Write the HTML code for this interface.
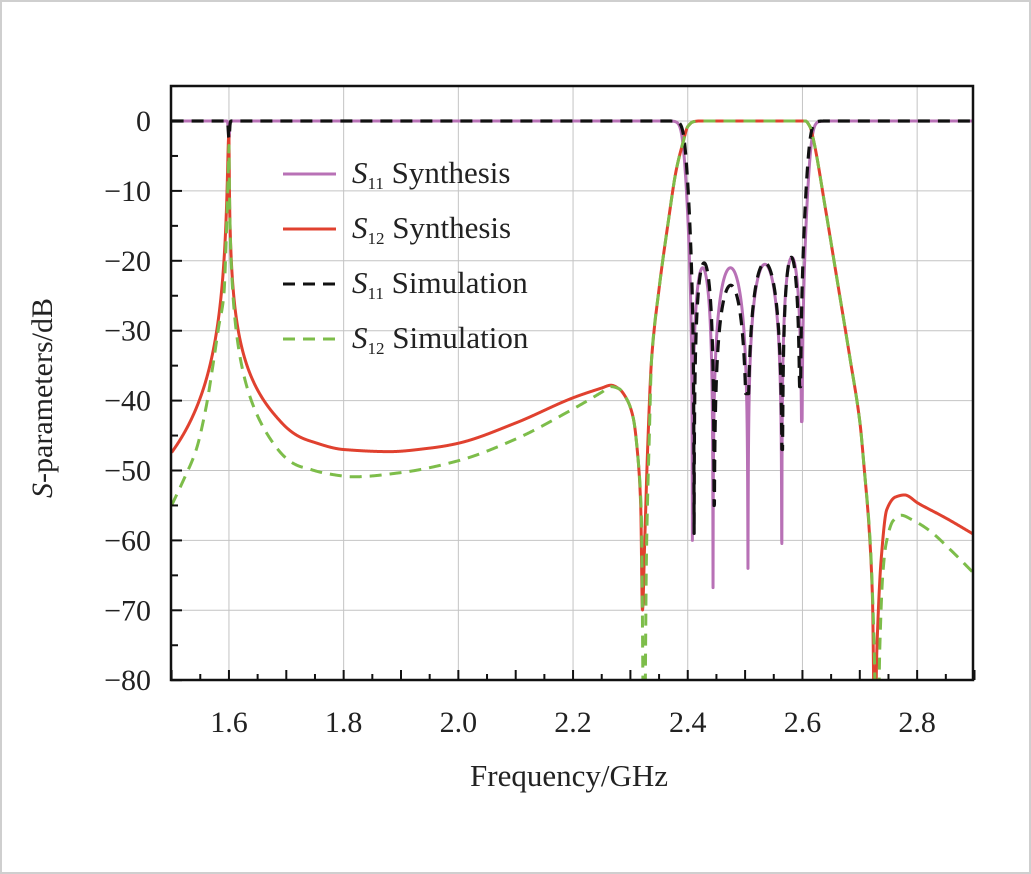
<!DOCTYPE html>
<html><head><meta charset="utf-8"><style>
html,body{margin:0;padding:0;background:#fff}
svg{display:block}
text{font-family:"Liberation Serif",serif;fill:#222}
</style></head><body>
<svg id="s" width="1031" height="874" xmlns="http://www.w3.org/2000/svg">
<defs><clipPath id="cp"><rect x="171" y="86" width="802" height="594"/></clipPath></defs>
<rect x="1" y="1" width="1029" height="872" fill="#fff" stroke="#cfcfcf" stroke-width="2"/>
<g id="grid" stroke="#c4c4c4" stroke-width="1"></g>
<g id="curves" fill="none" stroke-linejoin="round" clip-path="url(#cp)"></g>
<rect x="171" y="86" width="802" height="594" fill="none" stroke="#111" stroke-width="2.5"/>
<g id="ticks" stroke="#111" stroke-width="2"></g>
<g id="labels" font-size="30"></g>
<text x="569" y="786" font-size="31" text-anchor="middle">Frequency/GHz</text>
<text transform="translate(52,398) rotate(-90)" font-size="30" text-anchor="middle"><tspan font-style="italic">S</tspan>-parameters/dB</text>
<g font-size="31">
<line x1="283" y1="174" x2="336" y2="174" stroke="#b871b6" stroke-width="3"/>
<text x="352" y="183"><tspan font-style="italic">S</tspan><tspan font-size="17" dy="6">11</tspan><tspan dy="-6"> Synthesis</tspan></text>
<line x1="283" y1="229" x2="336" y2="229" stroke="#e0412f" stroke-width="3"/>
<text x="352" y="238"><tspan font-style="italic">S</tspan><tspan font-size="17" dy="6">12</tspan><tspan dy="-6"> Synthesis</tspan></text>
<line x1="283" y1="284" x2="336" y2="284" stroke="#111" stroke-width="3" stroke-dasharray="12,8"/>
<text x="352" y="293"><tspan font-style="italic">S</tspan><tspan font-size="17" dy="6">11</tspan><tspan dy="-6"> Simulation</tspan></text>
<line x1="283" y1="339" x2="336" y2="339" stroke="#7dbd4a" stroke-width="3" stroke-dasharray="12,8"/>
<text x="352" y="348"><tspan font-style="italic">S</tspan><tspan font-size="17" dy="6">12</tspan><tspan dy="-6"> Simulation</tspan></text>
</g>
</svg>
<script>
var NS="http://www.w3.org/2000/svg";
function X(f){return 171.6+(f-1.5)*573.5}
function Y(d){return 121-d*6.99}
function el(p,t,a){var e=document.createElementNS(NS,t);for(var k in a)e.setAttribute(k,a[k]);document.getElementById(p).appendChild(e);return e}
for(var d=0;d>=-70;d-=10)el("grid","line",{x1:171,x2:973,y1:Y(d),y2:Y(d)});
for(var f=1.6;f<2.85;f+=0.2)el("grid","line",{x1:X(f),x2:X(f),y1:86,y2:680});
for(var d=5;d>=-80;d-=5){var L=(d%10==0)?11:7;el("ticks","line",{x1:171,x2:171+L,y1:Y(d),y2:Y(d)});
 if(d%10==0){var t=el("labels","text",{x:151,y:Y(d)+10,"text-anchor":"end"});t.textContent=(d<0?"\u2212"+(-d):"0");}}
for(var i=0;i<=28;i++){var f=1.5+i*0.05;var L=(i%2==0)?10:6;el("ticks","line",{x1:X(f),x2:X(f),y1:680,y2:680-L});}
[1.6,1.8,2.0,2.2,2.4,2.6,2.8].forEach(function(f){var t=el("labels","text",{x:X(f),y:732,"text-anchor":"middle"});t.textContent=f.toFixed(1);});
function s11(f,z,dep,pk){
 var n=z.length,db;
 if(f<z[0]){var t=0.1*(Math.exp((z[0]-f)/0.007)-1);var m=t/Math.sqrt(1+t*t);db=20*Math.log10(Math.max(m,1e-6));}
 else if(f>z[n-1]){var t=0.1*(Math.exp((f-z[n-1])/0.007)-1);var m=t/Math.sqrt(1+t*t);db=20*Math.log10(Math.max(m,1e-6));}
 else{for(var i=0;i<n-1;i++)if(f<=z[i+1])break;var A=Math.pow(10,pk[i]/20);var m=A*Math.sin(Math.PI*(f-z[i])/(z[i+1]-z[i]));db=20*Math.log10(Math.max(Math.abs(m),1e-6));}
 var best=1e9,bd=0;for(var j=0;j<n;j++){var dd=Math.abs(f-z[j]);if(dd<best){best=dd;bd=dep[j];}}
 db=Math.max(db,bd);
 db-=2.5*Math.exp(-Math.pow((f-1.6)/0.0015,2));
 return db;}
function path(fn,st,w,dash,step){var p="";for(var f=1.5;f<=2.9001;f+=step){var v=fn(f);v=Math.max(v,-90);p+=(p?"L":"M")+X(f).toFixed(2)+","+Y(v).toFixed(2);}
 var a={d:p,stroke:st,"stroke-width":w};if(dash)a["stroke-dasharray"]=dash;el("curves","path",a);}
function mono(pts){var n=pts.length,xs=pts.map(p=>p[0]),ys=pts.map(p=>p[1]),d=[],m=[];
 for(var i=0;i<n-1;i++)d.push((ys[i+1]-ys[i])/(xs[i+1]-xs[i]));
 m[0]=d[0];m[n-1]=d[n-2];for(var i=1;i<n-1;i++)m[i]=(d[i-1]*d[i]<=0)?0:2/(1/d[i-1]+1/d[i]);
 return function(x){if(x<=xs[0])return ys[0];if(x>=xs[n-1])return ys[n-1];var i=0;while(x>xs[i+1])i++;
  var h=xs[i+1]-xs[i],t=(x-xs[i])/h,t2=t*t,t3=t2*t;
  return (2*t3-3*t2+1)*ys[i]+(t3-2*t2+t)*h*m[i]+(-2*t3+3*t2)*ys[i+1]+(t3-t2)*h*m[i+1];};}
function lor(f,a,k,off){var d=Math.abs(f-1.6);return -10*Math.log10(1+Math.pow(d/a,k/10))-off/(1+Math.pow(d/0.002,2));}
function blend(f,l,m,f0,f1){if(f<=f0)return l;if(f>=f1)return m;var t=(f-f0)/(f1-f0);t=t*t*(3-2*t);return l*(1-t)+m*t;}
var pass=[[2.35,-24],[2.365,-15],[2.38,-7],[2.392,-3],[2.4,-0.8],[2.41,-0.1],[2.42,0],[2.605,0],[2.613,-0.8],[2.62,-3],[2.64,-12.5],[2.66,-22.5],[2.683,-34],[2.7,-43],[2.708,-50]];
var redM=mono([[1.66,-39.9],[1.7,-44],[1.75,-46],[1.8,-47],[1.88,-47.3],[1.95,-46.8],[2.0,-46.1],[2.1,-43.2],[2.2,-39.6],[2.25,-38.2],[2.266,-37.8],[2.28,-38.3],[2.295,-40],[2.305,-42.5],[2.313,-48],[2.318,-55],[2.321,-70],[2.325,-60],[2.33,-47],[2.337,-34]].concat(pass).concat([[2.716,-58],[2.722,-68],[2.726,-88],[2.73,-75],[2.737,-63],[2.747,-55.6],[2.762,-53.8],[2.778,-53.5],[2.802,-54.7],[2.85,-56.8],[2.9,-59.2]]));
function red(f){if(f<1.6)return lor(f,0.0015,26,2);return blend(f,lor(f,0.000316,17.5,2),redM(f),1.67,1.75);}
var grnM=mono([[1.5,-55],[1.52,-51.5],[1.543,-47],[1.56,-41],[1.572,-35],[1.582,-29.5],[1.591,-25],[1.596,-15],[1.6,-3.5]]);
var grnR=mono([[1.68,-46.6],[1.731,-49.5],[1.775,-50.5],[1.818,-50.9],[1.9,-50.3],[2.0,-48.6],[2.1,-45.5],[2.2,-41.2],[2.25,-38.8],[2.266,-38],[2.28,-38.3],[2.295,-40],[2.305,-42.5],[2.313,-48],[2.319,-56],[2.324,-95],[2.328,-62],[2.333,-45],[2.337,-34]].concat(pass).concat([[2.718,-60],[2.725,-75],[2.73,-95],[2.735,-75],[2.74,-65],[2.746,-60.4],[2.758,-57.2],[2.772,-56.4],[2.79,-57],[2.82,-58.5],[2.86,-61.5],[2.9,-64.8]]));
function grn(f){if(f<1.6)return grnM(f);return blend(f,lor(f,0.000447,20.6,3.5),grnR(f),1.68,1.74);}
var pz=[2.408,2.444,2.505,2.564,2.599],pd=[-60,-67,-64,-70,-43],pp=[-21,-21,-20.5,-19.5];
var bz=[2.411,2.446,2.504,2.565,2.596],bd=[-59,-55,-39,-47,-38],bp=[-20.3,-23.5,-20.3,-19.5];
path(function(f){return s11(f,pz,pd,pp)},"#b871b6",3,null,0.0003);
path(red,"#e0412f",3,null,0.0004);
path(function(f){return s11(f,bz,bd,bp)},"#111",3.2,"12,8",0.0003);
path(grn,"#7dbd4a",3,"12,8",0.0004);
</script>
</body></html>
